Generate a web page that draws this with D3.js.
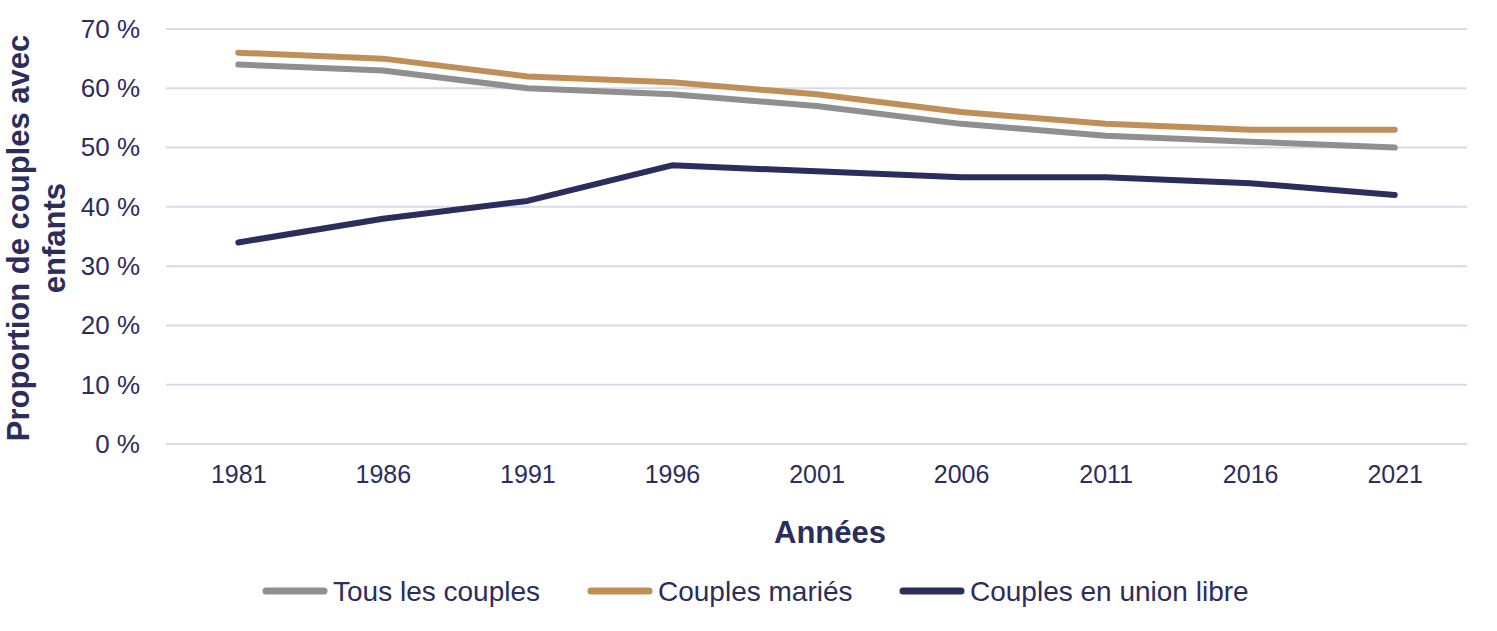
<!DOCTYPE html>
<html><head><meta charset="utf-8">
<script src="https://cdn.jsdelivr.net/npm/d3@7"></script>
<style>body{margin:0;background:#fff}svg{display:block}text{font-family:"Liberation Sans",Arial,sans-serif}</style>
</head><body>
<svg id="c" width="1497" height="631"></svg>
<script>
const years = ["1981","1986","1991","1996","2001","2006","2011","2016","2021"];
const tousLesCouples = [64,63,60,59,57,54,52,51,50];
const couplesMaries = [66,65,62,61,59,56,54,53,53];
const unionLibre = [34,38,41,47,46,45,45,44,42];
const yTicks = [0,10,20,30,40,50,60,70];
const seriesNames = ["Tous les couples","Couples mariés","Couples en union libre"];
const seriesColors = ["#8f8f8f","#c08f58","#2b2d5c"];

const series = [tousLesCouples, couplesMaries, unionLibre].map((v,i)=>({name:seriesNames[i], color:seriesColors[i], values:v}));
const textColor = "#2b2d5c";
const svg = d3.select("#c");
const L=166, R=1467, T=29, B=444;
const x = d3.scalePoint().domain(years).range([L,R]).padding(0.5);
const y = d3.scaleLinear().domain([0,70]).range([B,T]);

// gridlines
svg.append("g").selectAll("line").data(yTicks).join("line")
  .attr("x1",L).attr("x2",R).attr("y1",d=>y(d)).attr("y2",d=>y(d))
  .attr("stroke","#d9d9ec").attr("stroke-width",2);

// y axis
const yAxis = svg.append("g").attr("transform",`translate(${L},0)`)
  .call(d3.axisLeft(y).tickValues(yTicks).tickSize(0).tickPadding(26).tickFormat(d=>d+" %"));
yAxis.select(".domain").remove();
yAxis.selectAll("text").attr("fill",textColor).attr("font-size",26).attr("font-family","Liberation Sans, Arial, sans-serif");

// x axis
const xAxis = svg.append("g").attr("transform",`translate(0,${B})`)
  .call(d3.axisBottom(x).tickSize(0).tickPadding(21));
xAxis.select(".domain").remove();
xAxis.selectAll("text").attr("fill",textColor).attr("font-size",25).attr("font-family","Liberation Sans, Arial, sans-serif");

// lines
const line = d3.line().x((d,i)=>x(years[i])).y(d=>y(d));
svg.append("g").selectAll("path").data(series).join("path")
  .attr("d",d=>line(d.values)).attr("fill","none")
  .attr("stroke",d=>d.color).attr("stroke-width",6)
  .attr("stroke-linecap","round").attr("stroke-linejoin","round");

// axis titles
svg.append("text").attr("x",830).attr("y",543).attr("text-anchor","middle")
  .attr("font-size",31).attr("font-weight","bold").attr("fill",textColor).text("Années");
const yt = svg.append("text").attr("transform","translate(0,238) rotate(-90)")
  .attr("text-anchor","middle").attr("font-size",31).attr("font-weight","bold").attr("fill",textColor);
yt.append("tspan").attr("x",0).attr("y",29).text("Proportion de couples avec");
yt.append("tspan").attr("x",0).attr("y",65).text("enfants");

// legend
const legX = [263, 588, 900];
const lg = svg.append("g").selectAll("g").data(series).join("g")
  .attr("transform",(d,i)=>`translate(${legX[i]},591)`);
lg.append("line").attr("x1",3).attr("x2",61).attr("stroke",d=>d.color)
  .attr("stroke-width",7).attr("stroke-linecap","round");
lg.append("text").attr("x",70).attr("y",10).attr("font-size",28).attr("fill",textColor).text(d=>d.name);
</script>
</body></html>
